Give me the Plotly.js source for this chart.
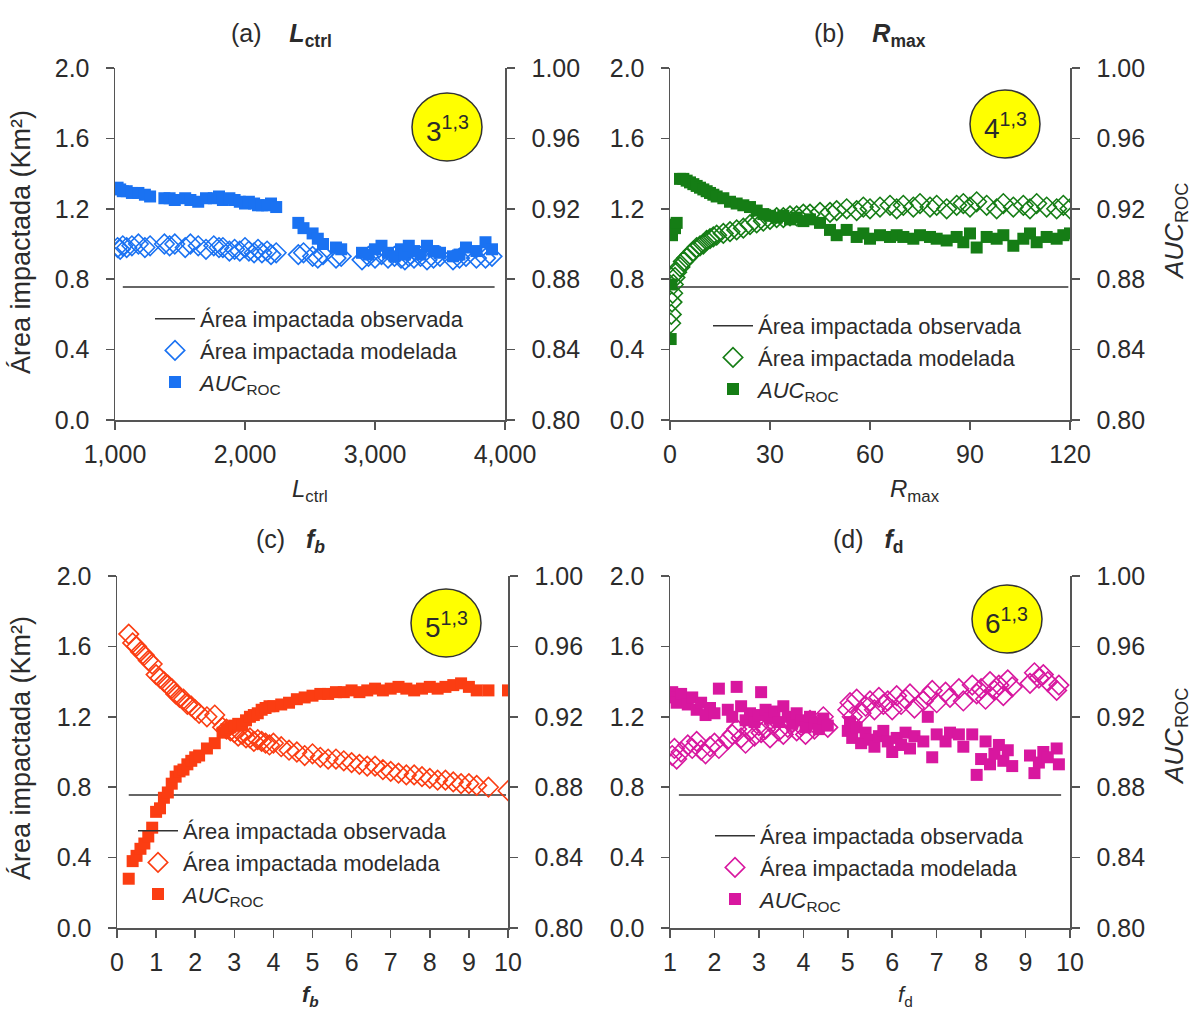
<!DOCTYPE html>
<html>
<head>
<meta charset="utf-8">
<script src="https://cdn.plot.ly/plotly-3.0.1.min.js"></script>
<style>
  html, body { margin: 0; padding: 0; background: #fff; }
  #chart { width: 1195px; height: 1016px; }
</style>
</head>
<body>
<div id="chart"></div>
<script>
// ---------- data ----------
// observed impacted area (km²), same reference value in every panel
const observedArea = 0.756;

// (a) L_ctrl sweep
const lctrl = [1020, 1040, 1060, 1090, 1130, 1180, 1230, 1270, 1380, 1420, 1460, 1540, 1580, 1640, 1700,
  1760, 1800, 1830, 1880, 1920, 1960, 2000, 2030, 2070, 2100, 2130, 2170, 2200, 2240, 2410,
  2450, 2520, 2560, 2600, 2700, 2740, 2900, 2950, 3000, 3050, 3100, 3150, 3200, 3230, 3260,
  3300, 3350, 3400, 3450, 3500, 3600, 3650, 3700, 3780, 3850, 3900];
const lctrlModel = [0.98, 0.97, 0.99, 0.98, 0.99, 1.00, 0.98, 0.99, 1.00, 0.99, 1.00, 0.98, 1.00, 0.99, 0.97,
  0.99, 0.98, 0.98, 0.96, 0.97, 0.96, 0.98, 0.96, 0.95, 0.97, 0.95, 0.96, 0.94, 0.95, 0.94,
  0.95, 0.93, 0.92, 0.94, 0.92, 0.93, 0.91, 0.93, 0.92, 0.94, 0.92, 0.93, 0.92, 0.91, 0.93,
  0.92, 0.93, 0.91, 0.92, 0.93, 0.91, 0.92, 0.93, 0.92, 0.92, 0.93];
const lctrlAuc = [0.932, 0.931, 0.930, 0.930, 0.929, 0.929, 0.928, 0.927, 0.926, 0.926, 0.925, 0.926, 0.925, 0.924, 0.926,
  0.926, 0.927, 0.925, 0.926, 0.925, 0.924, 0.923, 0.924, 0.923, 0.922, 0.922, 0.922, 0.923, 0.921, 0.912,
  0.909, 0.906, 0.903, 0.900, 0.898, 0.897, 0.895, 0.894, 0.897, 0.899, 0.895, 0.893, 0.897, 0.894, 0.899,
  0.896, 0.894, 0.899, 0.896, 0.895, 0.893, 0.894, 0.898, 0.896, 0.901, 0.897];
const lctrlObsSpan = [1060, 3920];

// (b) R_max sweep
const rmax = [0.2, 0.4, 0.6, 0.8, 1.0, 1.5, 2, 3, 4, 5, 6, 7, 8, 9, 10, 11, 12, 13, 14, 16, 18, 20, 22, 24, 26, 28,
  30, 32, 34, 36, 38, 40, 42, 45, 48, 50, 53, 56, 58, 60, 63, 66, 68, 70, 73, 75, 78, 80, 83, 86, 88,
  90, 92, 95, 98, 100, 103, 106, 108, 110, 113, 116, 118, 120];
const rmaxModel = [0.55, 0.60, 0.67, 0.72, 0.77, 0.81, 0.84, 0.87, 0.90, 0.92, 0.94, 0.96, 0.98, 0.99, 1.00, 1.02, 1.03, 1.04, 1.05, 1.06, 1.07, 1.08, 1.09, 1.11, 1.12, 1.13,
  1.14, 1.15, 1.15, 1.16, 1.16, 1.17, 1.17, 1.18, 1.18, 1.19, 1.20, 1.19, 1.21, 1.20, 1.21, 1.22, 1.20, 1.22, 1.21, 1.23, 1.21, 1.22, 1.20, 1.22, 1.23,
  1.21, 1.24, 1.22, 1.20, 1.23, 1.21, 1.22, 1.20, 1.23, 1.21, 1.20, 1.22, 1.20];
const rmaxAuc = [0.846, 0.877, 0.905, 0.910, 0.911, 0.909, 0.912, 0.937, 0.937, 0.936, 0.935, 0.934, 0.933, 0.932, 0.931, 0.930, 0.929, 0.928, 0.927, 0.926, 0.924, 0.923, 0.922, 0.921, 0.919, 0.917,
  0.916, 0.915, 0.916, 0.914, 0.915, 0.913, 0.914, 0.912, 0.908, 0.905, 0.908, 0.904, 0.906, 0.903, 0.905, 0.904, 0.905, 0.904, 0.903, 0.905, 0.904, 0.903, 0.902, 0.904, 0.901,
  0.906, 0.898, 0.904, 0.903, 0.905, 0.899, 0.903, 0.906, 0.901, 0.904, 0.903, 0.905, 0.906];
const rmaxObsSpan = [0.6, 119.5];

// (c) f_b sweep
const fb = [0.3, 0.4, 0.5, 0.6, 0.7, 0.8, 0.9, 1.0, 1.1, 1.2, 1.3, 1.4, 1.5, 1.6, 1.7, 1.8, 1.9, 2.0, 2.1, 2.3, 2.5,
  2.7, 2.8, 2.9, 3.0, 3.1, 3.2, 3.3, 3.4, 3.5, 3.6, 3.7, 3.8, 3.9, 4.0, 4.2, 4.4, 4.6, 4.8, 5.0,
  5.2, 5.4, 5.6, 5.8, 6.0, 6.2, 6.4, 6.6, 6.8, 7.0, 7.2, 7.4, 7.6, 7.8, 8.0, 8.2, 8.4, 8.6, 8.8, 9.0, 9.2, 9.5, 10.0];
const fbModel = [1.67, 1.62, 1.60, 1.57, 1.55, 1.52, 1.50, 1.44, 1.42, 1.40, 1.38, 1.36, 1.33, 1.31, 1.30, 1.27, 1.26, 1.24, 1.22, 1.20, 1.21,
  1.14, 1.13, 1.12, 1.11, 1.09, 1.10, 1.08, 1.08, 1.06, 1.07, 1.06, 1.05, 1.04, 1.05, 1.03, 1.01, 1.00, 0.98, 0.99,
  0.97, 0.96, 0.96, 0.95, 0.94, 0.93, 0.92, 0.92, 0.90, 0.89, 0.88, 0.87, 0.87, 0.86, 0.85, 0.84, 0.84, 0.83, 0.82, 0.82, 0.81, 0.80, 0.78];
const fbAuc = [0.828, 0.838, 0.841, 0.845, 0.848, 0.852, 0.857, 0.866, 0.868, 0.874, 0.877, 0.882, 0.886, 0.889, 0.890, 0.893, 0.895, 0.897, 0.898, 0.902, 0.905,
  0.911, 0.913, 0.914, 0.915, 0.916, 0.915, 0.918, 0.920, 0.921, 0.922, 0.924, 0.925, 0.926, 0.926, 0.927, 0.928, 0.930, 0.931, 0.932,
  0.933, 0.933, 0.934, 0.934, 0.935, 0.934, 0.935, 0.936, 0.935, 0.936, 0.937, 0.936, 0.935, 0.936, 0.937, 0.936, 0.937, 0.938, 0.939, 0.937, 0.935, 0.935, 0.935];
const fbObsSpan = [0.3, 9.95];

// (d) f_d sweep
const fd = [1.05, 1.10, 1.15, 1.25, 1.40, 1.50, 1.60, 1.70, 1.80, 1.90, 2.00, 2.10, 2.30, 2.40, 2.50, 2.60, 2.70, 2.80, 2.90, 3.00,
  3.05, 3.15, 3.25, 3.35, 3.45, 3.55, 3.65, 3.75, 3.85, 3.95, 4.05, 4.15, 4.25, 4.35, 4.45, 4.55,
  5.00, 5.05, 5.10, 5.20, 5.30, 5.40, 5.50, 5.60, 5.70, 5.80, 5.90, 6.00, 6.10, 6.20, 6.30, 6.40, 6.50, 6.70, 6.80, 6.90,
  7.00, 7.20, 7.30, 7.50, 7.60, 7.80, 7.90, 8.00, 8.10, 8.20, 8.30, 8.40, 8.50, 8.60, 8.70, 9.10, 9.20, 9.30, 9.40, 9.50, 9.70, 9.75];
const fdModel = [0.98, 1.02, 0.96, 1.00, 1.04, 1.02, 1.06, 1.01, 0.99, 1.03, 1.05, 1.02, 1.07, 1.10, 1.13, 1.08, 1.05, 1.12, 1.09, 1.15,
  1.11, 1.13, 1.08, 1.16, 1.12, 1.10, 1.14, 1.17, 1.12, 1.15, 1.10, 1.18, 1.13, 1.16, 1.20, 1.14,
  1.24, 1.28, 1.20, 1.30, 1.22, 1.26, 1.29, 1.24, 1.31, 1.27, 1.29, 1.24, 1.32, 1.27, 1.30, 1.33, 1.25, 1.29, 1.32, 1.35,
  1.28, 1.34, 1.31, 1.36, 1.29, 1.38, 1.33, 1.36, 1.30, 1.40, 1.35, 1.38, 1.32, 1.41, 1.37, 1.39, 1.45, 1.42, 1.44, 1.40, 1.35, 1.38];
const fdAuc = [0.934, 0.931, 0.928, 0.933, 0.927, 0.931, 0.924, 0.928, 0.921, 0.925, 0.922, 0.936, 0.924, 0.920, 0.937, 0.926, 0.918, 0.922, 0.917, 0.921,
  0.934, 0.924, 0.919, 0.923, 0.917, 0.926, 0.920, 0.916, 0.922, 0.918, 0.914, 0.920, 0.916, 0.913, 0.919, 0.915,
  0.912, 0.917, 0.908, 0.914, 0.905, 0.911, 0.907, 0.903, 0.909, 0.912, 0.906, 0.900, 0.908, 0.904, 0.911, 0.902, 0.909, 0.906, 0.920, 0.897,
  0.910, 0.906, 0.911, 0.910, 0.903, 0.910, 0.887, 0.896, 0.906, 0.893, 0.899, 0.904, 0.895, 0.901, 0.892, 0.898, 0.888, 0.894, 0.900, 0.897, 0.902, 0.893];
const fdObsSpan = [1.2, 9.8];

// ---------- layout helpers ----------
const W = 1195, H = 1016;
const px = v => v / W;          // pixel column -> paper x
const py = v => 1 - v / H;      // pixel row -> paper y
const FONT = 'Liberation Sans, Arial, sans-serif';
const INK = '#2b2b2b';
const AXIS = '#555';

const panels = [
  { x: lctrl, model: lctrlModel, auc: lctrlAuc, span: lctrlObsSpan, color: '#1a72f2',
    dom: [115, 505], row: [68, 420], range: [1000, 4000], dtick: 1000, fmt: ',d' },
  { x: rmax, model: rmaxModel, auc: rmaxAuc, span: rmaxObsSpan, color: '#157d15',
    dom: [670, 1070], row: [68, 420], range: [0, 120], dtick: 30, fmt: 'd' },
  { x: fb, model: fbModel, auc: fbAuc, span: fbObsSpan, color: '#fb3d12',
    dom: [117, 508], row: [576, 928], range: [0, 10], dtick: 1, fmt: 'd' },
  { x: fd, model: fdModel, auc: fdAuc, span: fdObsSpan, color: '#d8179f',
    dom: [670, 1070], row: [576, 928], range: [1, 10], dtick: 1, fmt: 'd' }
];

const legendSpots = [
  { x: 150, y: 298 },
  { x: 708, y: 305 },
  { x: 133, y: 810 },
  { x: 710, y: 815 }
];

const traces = [];
const layout = {
  width: W, height: H,
  margin: { l: 0, r: 0, t: 0, b: 0 },
  paper_bgcolor: '#fff', plot_bgcolor: 'rgba(0,0,0,0)',
  font: { family: FONT, color: INK, size: 22 },
  showlegend: true,
  annotations: [], shapes: []
};

panels.forEach((p, i) => {
  const n = i + 1;
  const xa = n === 1 ? 'x' : 'x' + n;
  const yL = n === 1 ? 'y' : 'y' + (2 * n - 1);
  const yR = 'y' + (2 * n);
  const legName = n === 1 ? 'legend' : 'legend' + n;

  traces.push({
    type: 'scatter', mode: 'lines', name: 'Área impactada observada',
    x: p.span, y: [observedArea, observedArea],
    line: { color: '#333', width: 1.6 },
    xaxis: xa, yaxis: yL, legend: legName, hoverinfo: 'skip'
  });
  traces.push({
    type: 'scatter', mode: 'markers', name: 'Área impactada modelada',
    x: p.x, y: p.model,
    marker: { symbol: 'diamond-open', size: 15, color: p.color, line: { color: p.color, width: 1.6 } },
    xaxis: xa, yaxis: yL, legend: legName
  });
  traces.push({
    type: 'scatter', mode: 'markers', name: '<i>AUC</i><sub>ROC</sub>',
    x: p.x, y: p.auc,
    marker: { symbol: 'square', size: 12, color: p.color },
    xaxis: xa, yaxis: yR, legend: legName
  });

  const axisKey = n === 1 ? 'xaxis' : 'xaxis' + n;
  const yLKey = n === 1 ? 'yaxis' : 'yaxis' + (2 * n - 1);
  const yRKey = 'yaxis' + (2 * n);
  const common = {
    showgrid: false, zeroline: false, showline: true, linecolor: AXIS, linewidth: 1.5,
    ticks: 'outside', ticklen: 8, tickwidth: 1.5, tickcolor: AXIS,
    tickfont: { family: FONT, size: 25, color: INK }, fixedrange: true
  };
  layout[axisKey] = Object.assign({}, common, {
    domain: [px(p.dom[0]), px(p.dom[1])], range: p.range, dtick: p.dtick, tick0: p.range[0],
    tickformat: p.fmt, anchor: yL, ticklabelstandoff: 3
  });
  layout[yLKey] = Object.assign({}, common, {
    domain: [py(p.row[1]), py(p.row[0])], range: [0, 2], dtick: 0.4, tickformat: '.1f',
    anchor: xa, side: 'left', ticklabelstandoff: 11
  });
  layout[yRKey] = Object.assign({}, common, {
    range: [0.8, 1.0], dtick: 0.04, tickformat: '.2f',
    anchor: xa, overlaying: yL, side: 'right', ticklabelstandoff: 12
  });

  layout[legName] = {
    x: px(legendSpots[i].x), y: py(legendSpots[i].y), xanchor: 'left', yanchor: 'top',
    bgcolor: 'rgba(0,0,0,0)', borderwidth: 0, itemwidth: 40, traceorder: 'normal',
    font: { family: FONT, size: 22, color: INK }, tracegroupgap: 0
  };
});

// centred text placed at a pixel position of the figure
function label(text, x, y, size, angle) {
  layout.annotations.push({
    text: text, x: px(x), y: py(y), xref: 'paper', yref: 'paper',
    xanchor: 'center', yanchor: 'middle', showarrow: false, textangle: angle || 0,
    font: { family: FONT, size: size, color: INK }
  });
}

// panel titles
label('(a)\u00a0\u00a0\u00a0\u00a0<b><i>L</i><sub>ctrl</sub></b>', 281, 35, 25);
label('(b)\u00a0\u00a0\u00a0\u00a0<b><i>R</i><sub>max</sub></b>', 870, 35, 25);
label('(c)\u00a0\u00a0\u00a0<b><i>f<sub>b</sub></i></b>', 290, 541, 25);
label('(d)\u00a0\u00a0\u00a0<b><i>f</i><sub>d</sub></b>', 868, 541, 25);

// x-axis titles
label('<i>L</i><sub>ctrl</sub>', 310, 490, 24);
label('<i>R</i><sub>max</sub>', 915, 490, 24);
label('<b><i>f<sub>b</sub></i></b>', 310, 996, 22);
label('<i>f</i><sub>d</sub>', 905, 996, 22);

// left-hand axis titles (panels a and c) and right-hand ones (panels b and d)
label('Área impactada (Km²)', 21, 242, 27, -90);
label('Área impactada (Km²)', 21, 748, 27, -90);
label('<i>AUC</i><sub>ROC</sub>', 1175, 232, 26, -90);
label('<i>AUC</i><sub>ROC</sub>', 1175, 737, 26, -90);

// yellow scenario badges
const badges = [
  { t: '3<sup>1,3</sup>', cx: 447, cy: 127 },
  { t: '4<sup>1,3</sup>', cx: 1005, cy: 124 },
  { t: '5<sup>1,3</sup>', cx: 446, cy: 623 },
  { t: '6<sup>1,3</sup>', cx: 1007, cy: 619 }
];
badges.forEach(b => {
  layout.shapes.push({
    type: 'circle', xref: 'paper', yref: 'paper',
    x0: px(b.cx - 35), x1: px(b.cx + 35), y0: py(b.cy + 34), y1: py(b.cy - 34),
    fillcolor: '#ffff00', line: { color: '#333', width: 1.5 }
  });
  label(b.t, b.cx, b.cy + 2, 28);
});

Plotly.newPlot('chart', traces, layout, { staticPlot: true, displayModeBar: false });
</script>
</body>
</html>
